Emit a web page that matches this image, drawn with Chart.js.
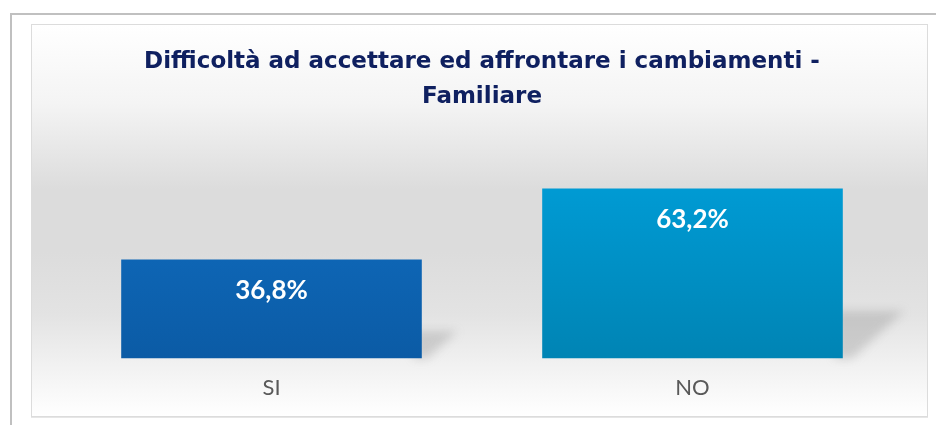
<!DOCTYPE html>
<html>
<head>
<meta charset="utf-8">
<script src="https://cdn.jsdelivr.net/npm/chart.js@4"></script>
<style>
  html, body { margin: 0; padding: 0; background: #fff; width: 936px; height: 425px; overflow: hidden; }
  .frame {
    position: absolute; left: 10px; top: 13px; width: 940px; height: 430px;
    border-left: 2px solid #c0c0c0; border-top: 2px solid #c0c0c0;
  }
  .panel {
    position: absolute; left: 31px; top: 24px; width: 895px; height: 391px;
    border: 1px solid #dcdcdc; box-shadow: 0 1px 0 #e6e6e6;
    background: linear-gradient(180deg, #ffffff 0%, #f4f4f4 20%, #dcdcdc 42%, #dcdcdc 58%, #e3e3e3 74%, #efefef 85%, #ffffff 100%);
  }
  canvas { position: absolute; left: 0; top: 0; }
</style>
</head>
<body>
<div class="frame"></div>
<div class="panel"><canvas id="chart" width="895" height="393"></canvas></div>
<script>
  const titleLines = ["Difficoltà ad accettare ed affrontare i cambiamenti -", "Familiare"];
  const categories = ["SI", "NO"];
  const percentages = [36.8, 63.2];
  const valueLabels = ["36,8%", "63,2%"];

  const FONT = "Lato, 'Open Sans', sans-serif";

  function barGradient(ctx, area, top, bottom) {
    if (!area) return top;
    const g = ctx.createLinearGradient(0, area.top, 0, area.bottom);
    g.addColorStop(0, top);
    g.addColorStop(1, bottom);
    return g;
  }

  // soft slanted shadow at the lower right of each bar
  const barShadow = {
    id: "barShadow",
    beforeDatasetsDraw(chart) {
      const ctx = chart.ctx;
      chart.getDatasetMeta(0).data.forEach((bar) => {
        const right = bar.x + bar.width / 2;
        const h = bar.base - bar.y;
        const sh = h * 0.28;
        const sw = h * 0.36;
        ctx.save();
        ctx.filter = "blur(5px)";
        ctx.fillStyle = "rgba(130,130,130,0.3)";
        ctx.beginPath();
        ctx.moveTo(right - 8, bar.base - sh);
        ctx.lineTo(right + sw, bar.base - sh);
        ctx.lineTo(right + sw * 0.15, bar.base);
        ctx.lineTo(right - 8, bar.base);
        ctx.closePath();
        ctx.fill();
        ctx.restore();
      });
    },
  };

  const valueText = {
    id: "valueText",
    afterDatasetsDraw(chart) {
      const ctx = chart.ctx;
      ctx.save();
      ctx.fillStyle = "#ffffff";
      ctx.font = "bold 26px " + FONT;
      ctx.textAlign = "center";
      ctx.textBaseline = "middle";
      chart.getDatasetMeta(0).data.forEach((bar, i) => {
        ctx.fillText(valueLabels[i], bar.x, bar.y + 31);
      });
      ctx.restore();
    },
  };

  new Chart(document.getElementById("chart"), {
    type: "bar",
    data: {
      labels: categories,
      datasets: [{
        data: percentages,
        backgroundColor: (c) => {
          const area = c.chart.chartArea;
          return c.dataIndex === 0
            ? barGradient(c.chart.ctx, area, "#1172c8", "#0b5ba5")
            : barGradient(c.chart.ctx, area, "#00a2de", "#0084b4");
        },
        borderWidth: 0,
        categoryPercentage: 1,
        barPercentage: 0.714,
      }],
    },
    options: {
      responsive: false,
      animation: false,
      events: [],
      layout: { padding: { left: 29, right: 24, bottom: 0 } },
      plugins: {
        legend: { display: false },
        tooltip: { enabled: false },
        title: {
          display: true,
          text: titleLines,
          color: "#0f2060",
          font: { family: "'DejaVu Sans', sans-serif", size: 23, weight: "bold", lineHeight: 1.52 },
          padding: { top: 20, bottom: 15 },
        },
      },
      scales: {
        x: {
          grid: { display: false, drawTicks: false },
          border: { display: false },
          ticks: { color: "#595959", font: { family: FONT, size: 22, weight: "normal" }, padding: 16.5 },
        },
        y: { display: false, min: 0, max: 85 },
      },
    },
    plugins: [barShadow, valueText],
  });
</script>
</body>
</html>
